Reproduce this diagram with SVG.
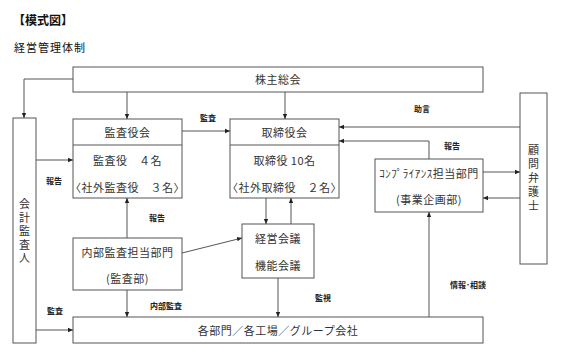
<svg xmlns="http://www.w3.org/2000/svg" width="571" height="357" viewBox="0 0 571 357">
<defs>
<marker id="ah" markerWidth="6" markerHeight="6" refX="5" refY="3" orient="auto" markerUnits="userSpaceOnUse">
<path d="M0,0.8 L5,3 L0,5.2 Z" fill="#222"/>
</marker>
<style>
.box{fill:#fff;stroke:#555;stroke-width:1}
.ln{fill:none;stroke:#555;stroke-width:1;marker-end:url(#ah)}
.t{font-family:"Noto Sans CJK JP","Noto Sans",sans-serif;font-size:11px;fill:#333;text-anchor:middle;dominant-baseline:central;letter-spacing:0.5px}
.v{font-family:"Noto Sans CJK JP","Noto Sans",sans-serif;font-size:11px;fill:#333;writing-mode:vertical-rl;text-anchor:start}
.lb{font-family:"Noto Sans CJK JP","Noto Sans",sans-serif;font-size:8px;font-weight:bold;fill:#222;text-anchor:middle;dominant-baseline:central}
.h{font-family:"Noto Sans CJK JP","Noto Sans",sans-serif;fill:#111}
</style>
</defs>
<rect width="571" height="357" fill="#fff"/>
<text class="h" x="13" y="25" font-size="12" font-weight="bold">【模式図】</text>
<text class="h" x="14" y="52" font-size="11" letter-spacing="1">経営管理体制</text>

<g id="kabunushi"><rect class="box" x="73" y="67" width="410" height="25"/><text class="t" x="278" y="79" letter-spacing="1.5">株主総会</text></g>
<g id="kaikei"><rect class="box" x="13" y="118" width="23" height="225"/>
<text class="v" x="24.5" y="198.5" letter-spacing="2.5">会計監査人</text></g>
<g id="kansayakukai"><rect class="box" x="73" y="119" width="109" height="79"/><line x1="73" y1="145" x2="182" y2="145" stroke="#555"/>
<text class="t" x="127.5" y="132">監査役会</text><text class="t" x="127.5" y="160">監査役　４名</text><text class="t" x="127.5" y="186.5">〈社外監査役　３名〉</text></g>
<g id="torishimariyakukai"><rect class="box" x="230" y="119" width="109" height="79"/><line x1="230" y1="145" x2="339" y2="145" stroke="#555"/>
<text class="t" x="284.5" y="132">取締役会</text><text class="t" x="284.5" y="160">取締役 10名</text><text class="t" x="284.5" y="186.5">〈社外取締役　２名〉</text></g>
<g id="naibukansa"><rect class="box" x="73" y="238" width="109" height="52"/>
<text class="t" x="127.5" y="252">内部監査担当部門</text><text class="t" x="127.5" y="278">(監査部)</text></g>
<g id="keiei"><rect class="box" x="242" y="224" width="72" height="54"/>
<text class="t" x="278" y="238">経営会議</text><text class="t" x="278" y="265">機能会議</text></g>
<g id="compliance"><rect class="box" x="375" y="159" width="108" height="53"/>
<text class="t" x="429" y="173" letter-spacing="0">ｺﾝﾌﾟﾗｲｱﾝｽ担当部門</text><text class="t" x="429" y="199">(事業企画部)</text></g>
<g id="komon"><rect class="box" x="520" y="93" width="27" height="171"/>
<text class="v" x="533.5" y="144.5" letter-spacing="3">顧問弁護士</text></g>
<g id="kakubumon"><rect class="box" x="73" y="317" width="410" height="26"/>
<text class="t" x="278" y="330" letter-spacing="1.3">各部門／各工場／グループ会社</text></g>

<g id="connectors">
<path class="ln" d="M73,79 H24 V118"/>
<path class="ln" d="M127,92 V119"/>
<path class="ln" d="M285,92 V119"/>
<path class="ln" d="M182,131 H230"/>
<path class="ln" d="M36,160 H73"/>
<path class="ln" d="M36,330 H73"/>
<path class="ln" d="M127,238 V198"/>
<path class="ln" d="M127,290 V317"/>
<path class="ln" d="M182,253 L242,238"/>
<path class="ln" d="M266,198 V224"/>
<path class="ln" d="M291,224 V198"/>
<path class="ln" d="M278,278 V317"/>
<path class="ln" d="M429,317 V212"/>
<path class="ln" d="M429,159 V141 H339"/>
<path class="ln" d="M520,127 H339"/>
<path class="ln" d="M483,172 H520"/>
<path class="ln" d="M520,198 H483"/>
<text class="lb" x="208" y="117">監査</text>
<text class="lb" x="54" y="180">報告</text>
<text class="lb" x="55" y="310">監査</text>
<text class="lb" x="157" y="217">報告</text>
<text class="lb" x="166" y="305">内部監査</text>
<text class="lb" x="323" y="297">監視</text>
<text class="lb" x="468" y="284">情報･相談</text>
<text class="lb" x="452" y="145">報告</text>
<text class="lb" x="422" y="108">助言</text>
</g>
</svg>
